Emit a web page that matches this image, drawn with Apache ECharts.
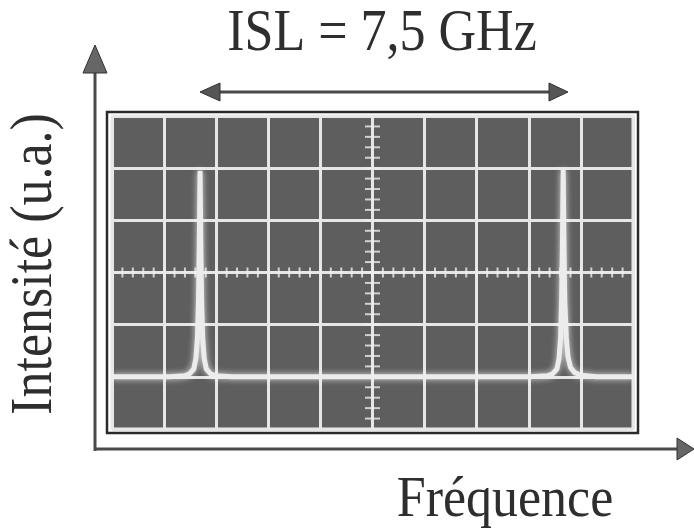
<!DOCTYPE html>
<html>
<head>
<meta charset="utf-8">
<script src="https://cdn.jsdelivr.net/npm/echarts@6.0.0/dist/echarts.min.js"></script>
<style>
  html, body { margin: 0; padding: 0; background: #fff; }
  #main { width: 694px; height: 532px; }
</style>
</head>
<body>
<div id="main"></div>
<script>
// screen in divisions: 10 across, 6 high
var xDivs = 10;
var yDivs = 6;
var baseLevel = 1.0;

// left resonance
var leftPeakX = [1.10, 1.39, 1.49, 1.57, 1.61, 1.64, 1.66, 1.675, 1.69, 1.705, 1.72, 1.74, 1.77, 1.81, 1.89, 1.99, 2.30];
var leftPeakY = [1.00, 1.02, 1.06, 1.15, 1.35, 1.75, 2.45, 3.50, 4.95, 3.50, 2.45, 1.75, 1.35, 1.15, 1.06, 1.02, 1.00];

// right resonance
var rightPeakX = [8.00, 8.36, 8.46, 8.54, 8.58, 8.61, 8.63, 8.645, 8.66, 8.675, 8.69, 8.72, 8.75, 8.80, 8.88, 9.00, 9.30];
var rightPeakY = [1.00, 1.02, 1.06, 1.15, 1.35, 1.75, 2.45, 3.50, 4.97, 3.50, 2.45, 1.75, 1.40, 1.18, 1.08, 1.03, 1.00];

var titleText = 'ISL = 7,5 GHz';
var yName = 'Intensité (u.a.)';
var xName = 'Fréquence';

var chart = echarts.init(document.getElementById('main'));

var trace = [[0, baseLevel]];
leftPeakX.forEach(function (x, i) { trace.push([x, leftPeakY[i]]); });
rightPeakX.forEach(function (x, i) { trace.push([x, rightPeakY[i]]); });
trace.push([xDivs, baseLevel]);

// small graduations on the centre cross (5 per division)
var vTicks = [], hTicks = [];
for (var k = 1; k < yDivs * 5; k++) vTicks.push([xDivs / 2, k / 5]);
for (var m = 1; m < xDivs * 5; m++) hTicks.push([m / 5, yDivs / 2]);

var serif = '"Liberation Serif", "DejaVu Serif", serif';
var ink = '#2e2e2e';
var arrowGray = '#4a4a4a';

var option = {
    animation: false,
    backgroundColor: '#ffffff',
    grid: {
        left: 112,
        top: 116,
        width: 521,
        height: 313,
        show: true,
        backgroundColor: '#5e5e5e',
        borderColor: '#eeeeee',
        borderWidth: 3
    },
    xAxis: {
        type: 'value',
        min: 0,
        max: xDivs,
        interval: 1,
        axisLine: { show: false },
        axisTick: { show: false },
        axisLabel: { show: false },
        splitLine: { lineStyle: { color: '#e6e6e6', width: 3 } }
    },
    yAxis: {
        type: 'value',
        min: 0,
        max: yDivs,
        interval: 1,
        axisLine: { show: false },
        axisTick: { show: false },
        axisLabel: { show: false },
        splitLine: { lineStyle: { color: '#e6e6e6', width: 3 } }
    },
    series: [
        {
            type: 'scatter',
            silent: true,
            symbol: 'rect',
            symbolSize: [15, 2],
            itemStyle: { color: '#eeeeee' },
            data: vTicks,
            z: 1
        },
        {
            type: 'scatter',
            silent: true,
            symbol: 'rect',
            symbolSize: [2, 10],
            itemStyle: { color: '#eeeeee' },
            data: hTicks,
            z: 1
        },
        {
            type: 'line',
            silent: true,
            showSymbol: false,
            smooth: false,
            data: trace,
            lineStyle: {
                color: '#ececec',
                width: 5,
                shadowBlur: 6,
                shadowColor: 'rgba(255,255,255,0.8)'
            },
            z: 3
        }
    ],
    graphic: [
        // dark bezel round the screen
        { type: 'rect', shape: { x: 107, y: 112, width: 531, height: 321 },
          style: { fill: 'none', stroke: '#2a2a2a', lineWidth: 2.5 } },
        // vertical axis + arrow
        { type: 'line', shape: { x1: 95, y1: 451, x2: 95, y2: 72 },
          style: { stroke: arrowGray, lineWidth: 3 } },
        { type: 'polygon', shape: { points: [[95, 45], [83, 73], [107, 73]] },
          style: { fill: '#666', stroke: '#333', lineWidth: 1 } },
        // horizontal axis + arrow
        { type: 'line', shape: { x1: 94, y1: 449, x2: 678, y2: 449 },
          style: { stroke: arrowGray, lineWidth: 3 } },
        { type: 'polygon', shape: { points: [[694, 449], [677, 438], [677, 460]] },
          style: { fill: '#666', stroke: '#333', lineWidth: 1 } },
        // ISL double arrow
        { type: 'line', shape: { x1: 215, y1: 92, x2: 553, y2: 92 },
          style: { stroke: arrowGray, lineWidth: 3 } },
        { type: 'polygon', shape: { points: [[200, 92], [220, 83], [220, 101]] },
          style: { fill: '#555', stroke: '#333', lineWidth: 1 } },
        { type: 'polygon', shape: { points: [[568, 92], [549, 83], [549, 101]] },
          style: { fill: '#555', stroke: '#333', lineWidth: 1 } },
        // texts
        { type: 'text', x: 382, y: 35, scaleY: 1.12,
          style: { text: titleText, font: '52px ' + serif, fill: ink,
                   textAlign: 'center', textVerticalAlign: 'middle' } },
        { type: 'text', x: 505, y: 501, scaleY: 1.1,
          style: { text: xName, font: '52px ' + serif, fill: ink,
                   textAlign: 'center', textVerticalAlign: 'middle' } },
        { type: 'text', x: 36, y: 264, rotation: Math.PI / 2, scaleY: 1.12,
          style: { text: yName, font: '52px ' + serif, fill: ink,
                   textAlign: 'center', textVerticalAlign: 'middle' } }
    ]
};

chart.setOption(option);
</script>
</body>
</html>
